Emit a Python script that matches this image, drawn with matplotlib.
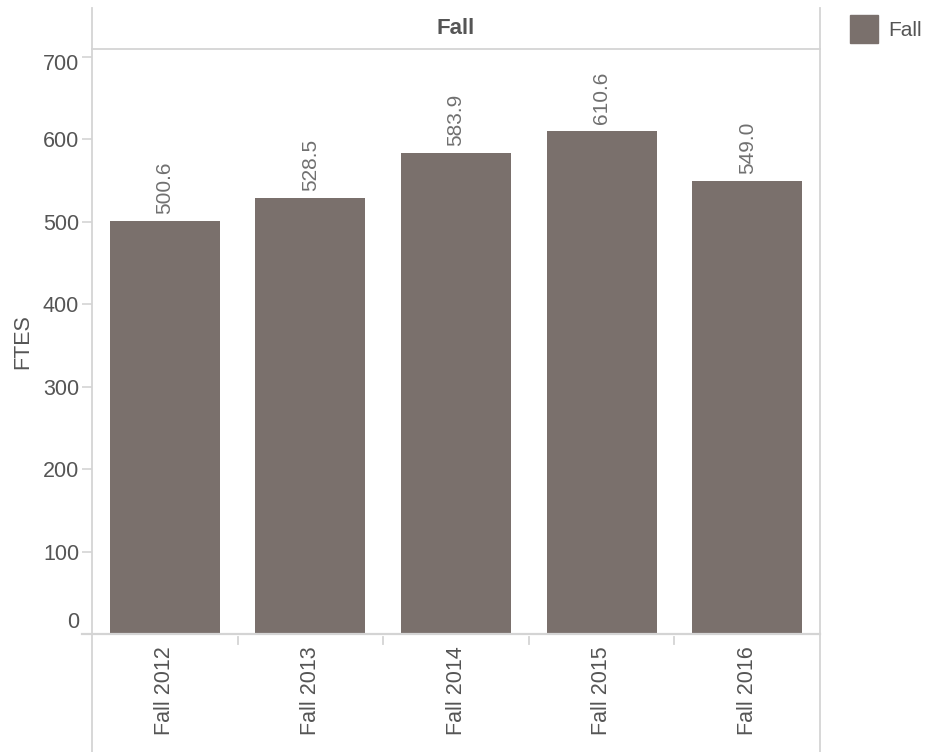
import matplotlib
matplotlib.use("Agg")
import matplotlib.pyplot as plt
from matplotlib.patches import Rectangle
from matplotlib.lines import Line2D
from matplotlib.transforms import ScaledTranslation

categories = ["Fall 2012", "Fall 2013", "Fall 2014", "Fall 2015", "Fall 2016"]
ftes = [500.6, 528.5, 583.9, 610.6, 549.0]
yticks = [0, 100, 200, 300, 400, 500, 600, 700]
header = "Fall"
legend_label = "Fall"
y_label = "FTES"

plt.rcParams['font.family'] = ['Liberation Sans', 'DejaVu Sans']

W, H = 926, 752
fig = plt.figure(figsize=(W / 100, H / 100), dpi=100)
bar_color = "#7a706c"
grid_color = "#d4d4d4"
text_color = "#555555"

x0, x1 = 92, 820
y_top, y_zero = 49, 634
ax = fig.add_axes([x0 / W, 1 - y_zero / H, (x1 - x0) / W, (y_zero - y_top) / H])
xs = list(range(len(categories)))
ax.bar(xs, ftes, width=0.755, color=bar_color, zorder=2)
ax.set_xlim(-0.5, len(categories) - 0.5)
ax.set_ylim(0, 709.7)
for s in ax.spines.values():
    s.set_visible(False)
ax.set_yticks(yticks)
ax.set_yticklabels([str(v) for v in yticks], fontsize=15.5, color=text_color)
ax.tick_params(axis='y', length=7.2, width=1.2, color=grid_color, pad=2)
labs = ax.get_yticklabels()
labs[0].set_transform(labs[0].get_transform() + ScaledTranslation(0, 14 / 100, fig.dpi_scale_trans))
labs[-1].set_transform(labs[-1].get_transform() + ScaledTranslation(0, -5 / 100, fig.dpi_scale_trans))
ax.set_xticks(xs)
ax.set_xticklabels(categories, rotation=90, fontsize=15.5, color=text_color, va='top')
ax.tick_params(axis='x', length=0, pad=9)
ax.set_ylabel(y_label, fontsize=15.5, color=text_color, labelpad=7)
for x, v in zip(xs, ftes):
    ax.annotate(f"{v:.1f}", (x, v), xytext=(0, 7), textcoords='offset pixels',
                rotation=90, ha='center', va='bottom', fontsize=15, color="#707070")

def fline(xa, ya, xb, yb, lw=1.3):
    fig.add_artist(Line2D([xa / W, xb / W], [1 - ya / H, 1 - yb / H],
                          color=grid_color, lw=lw, transform=fig.transFigure))

fline(x0, 8, x0, H)
fline(x1, 8, x1, H)
fline(x0, y_top, x1, y_top)
fline(82, y_zero, x1, y_zero, lw=1.6)
step = (x1 - x0) / len(categories)
for i in range(1, len(categories)):
    xx = x0 + step * i
    fline(xx, y_zero + 3, xx, y_zero + 10)

fig.text((x0 + x1) / 2 / W, 1 - 29 / H, header, ha='center', va='center',
         fontsize=16, fontweight='bold', color=text_color)

fig.add_artist(Rectangle((850 / W, 1 - 43 / H), 28 / W, 28 / H, color=bar_color,
                         transform=fig.transFigure))
fig.text(888 / W, 1 - 30 / H, legend_label, ha='left', va='center',
         fontsize=15, color=text_color)

fig.savefig("out.png", dpi=100)
